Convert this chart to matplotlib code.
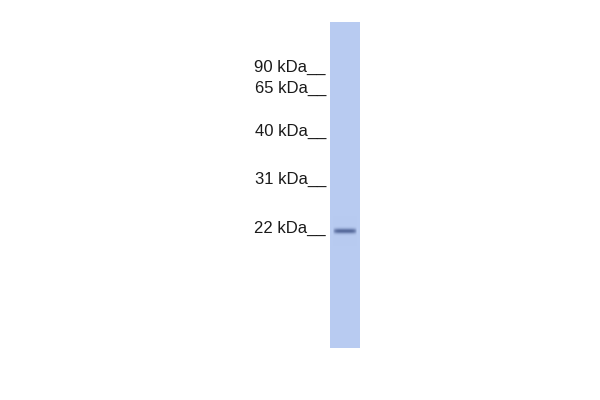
import numpy as np
import matplotlib
matplotlib.use("Agg")
import matplotlib.pyplot as plt

# marker ladder (label, vertical position in pixels)
marker_labels = ["90 kDa", "65 kDa", "40 kDa", "31 kDa", "22 kDa"]
marker_pos = [66, 87, 130, 178, 227]

# lane extent and detected band
lane_left, lane_right = 330, 360
lane_top, lane_bottom = 22, 348
band_pos = [231]
band_strength = [0.7]
band_half_height = [1.8]

plt.rcParams["font.family"] = ["Liberation Sans", "DejaVu Sans"]

fig = plt.figure(figsize=(6, 4), dpi=100)
ax = fig.add_axes([0, 0, 1, 1])
ax.set_xlim(0, 600)
ax.set_ylim(400, 0)
ax.axis("off")

# build lane image: light blue background with dark bands
h = lane_bottom - lane_top
w = lane_right - lane_left
ys = np.arange(h) + lane_top + 0.5
xs = np.arange(w) + lane_left + 0.5
base = np.array([184, 203, 241]) / 255.0
dark = np.array([45, 65, 120]) / 255.0
img = np.tile(base, (h, w, 1))
xprof = np.clip(1 - ((xs - (lane_left + lane_right) / 2) / 12.0) ** 6, 0, 1)
for pos, s, hh in zip(band_pos, band_strength, band_half_height):
    yprof = np.exp(-0.5 * ((ys - pos) / hh) ** 2)
    amt = s * np.outer(yprof, xprof)
    img = img * (1 - amt[..., None]) + dark * amt[..., None]
ax.imshow(img, extent=[lane_left, lane_right, lane_bottom, lane_top],
          interpolation="bilinear", aspect="auto")

for lab, y in zip(marker_labels, marker_pos):
    ax.text(326, y + 6, lab + "__", ha="right", va="baseline",
            fontsize=12, color="#1a1a1a")

fig.savefig("out.png", dpi=100)
